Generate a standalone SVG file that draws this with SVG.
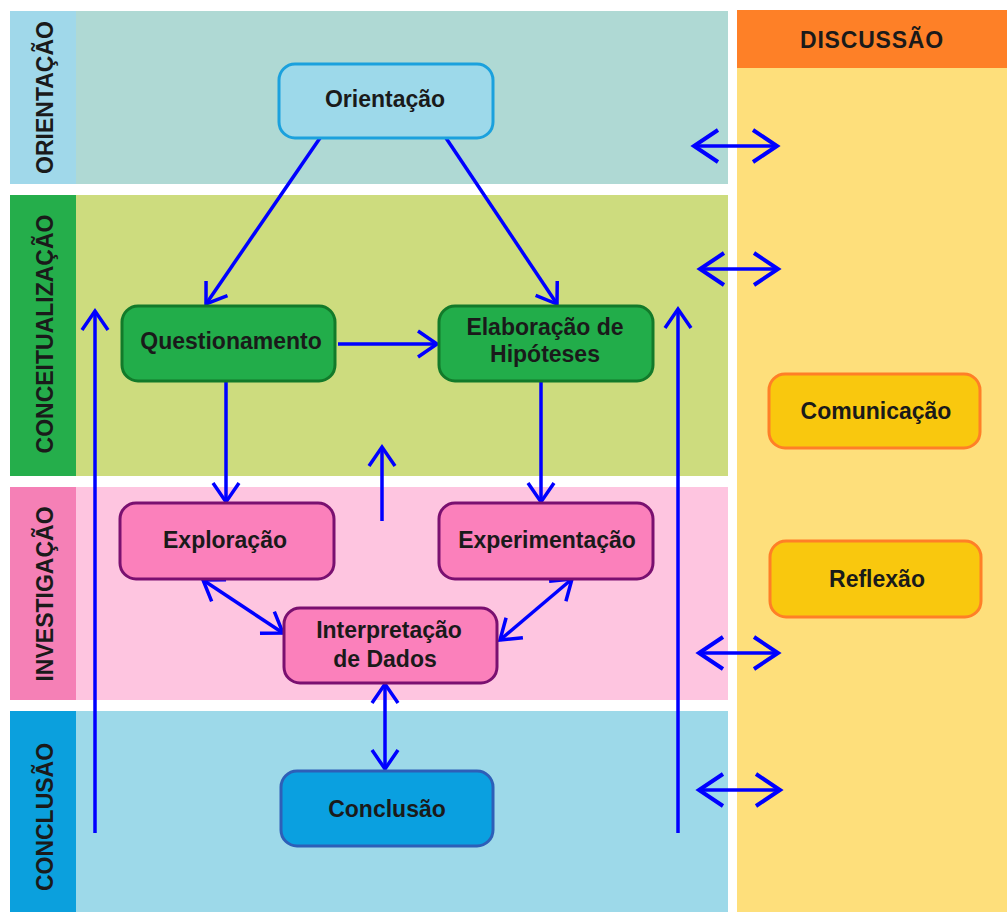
<svg xmlns="http://www.w3.org/2000/svg" width="1007" height="912" viewBox="0 0 1007 912">
<defs>
<style>
.lbl{font-family:"Liberation Sans",Arial,sans-serif;font-weight:bold;font-size:23px;fill:#1a1a1a;text-anchor:middle}
.nt{font-family:"Liberation Sans",Arial,sans-serif;font-weight:bold;font-size:23px;fill:#1a1a1a;text-anchor:middle}
.c{stroke:#0000ff;stroke-width:3.5;fill:none}
</style>
<marker id="ah" markerUnits="userSpaceOnUse" viewBox="-30 -20 40 40" refX="0" refY="0" markerWidth="40" markerHeight="40" orient="auto-start-reverse" overflow="visible">
<path d="M-19,-13 L0,0 L-19,13" fill="none" stroke="#0000ff" stroke-width="3.5"/>
</marker>
<marker id="ahb" markerUnits="userSpaceOnUse" viewBox="-30 -20 40 40" refX="0" refY="0" markerWidth="40" markerHeight="40" orient="auto-start-reverse" overflow="visible">
<path d="M-24,-16 L0,0 L-24,16" fill="none" stroke="#0000ff" stroke-width="4"/>
</marker>
</defs>
<rect width="1007" height="912" fill="#ffffff"/>
<g id="bands">
<rect x="10" y="11" width="718" height="173" fill="#afd9d4"/>
<rect x="10" y="11" width="66" height="173" fill="#a0d8ea"/>
<rect x="10" y="195" width="718" height="281" fill="#cddc7e"/>
<rect x="10" y="195" width="66" height="281" fill="#25ae4b"/>
<rect x="10" y="487" width="718" height="213" fill="#fec5e0"/>
<rect x="10" y="487" width="66" height="213" fill="#f580b6"/>
<rect x="10" y="711" width="718" height="201" fill="#9dd9e9"/>
<rect x="10" y="711" width="66" height="201" fill="#0ba0dd"/>
<rect x="737" y="10" width="270" height="902" fill="#fedf7b"/>
<rect x="737" y="10" width="270" height="58" fill="#fe8027"/>
<text class="lbl" transform="translate(53,97.5) rotate(-90)">ORIENTAÇÃO</text>
<text class="lbl" transform="translate(53,334) rotate(-90)">CONCEITUALIZAÇÃO</text>
<text class="lbl" transform="translate(53,594) rotate(-90)">INVESTIGAÇÃO</text>
<text class="lbl" transform="translate(53,817) rotate(-90)">CONCLUSÃO</text>
<text class="lbl" x="872" y="48" font-size="22" letter-spacing="0.8">DISCUSSÃO</text>
</g>
<g id="connectors">
<line class="c" x1="320" y1="138" x2="206" y2="304" marker-end="url(#ah)"/>
<line class="c" x1="446" y1="138" x2="557" y2="304" marker-end="url(#ah)"/>
<line class="c" x1="338" y1="344" x2="437" y2="344" marker-end="url(#ah)"/>
<line class="c" x1="226" y1="381" x2="226" y2="502" marker-end="url(#ah)"/>
<line class="c" x1="541" y1="381" x2="541" y2="502" marker-end="url(#ah)"/>
<line class="c" x1="382" y1="521" x2="382" y2="447" marker-end="url(#ah)"/>
<line class="c" x1="95" y1="833" x2="95" y2="311" marker-end="url(#ah)"/>
<line class="c" x1="678" y1="833" x2="678" y2="309" marker-end="url(#ah)"/>
<line class="c" x1="203" y1="580" x2="283" y2="633" marker-start="url(#ah)" marker-end="url(#ah)"/>
<line class="c" x1="572" y1="579" x2="500" y2="640" marker-start="url(#ah)" marker-end="url(#ah)"/>
<line class="c" x1="385" y1="684" x2="385" y2="769" marker-start="url(#ah)" marker-end="url(#ah)"/>
<line class="c" x1="694" y1="146" x2="777" y2="146" marker-start="url(#ahb)" marker-end="url(#ahb)"/>
<line class="c" x1="700" y1="269" x2="778" y2="269" marker-start="url(#ahb)" marker-end="url(#ahb)"/>
<line class="c" x1="699" y1="653" x2="778" y2="653" marker-start="url(#ahb)" marker-end="url(#ahb)"/>
<line class="c" x1="699" y1="790" x2="780" y2="790" marker-start="url(#ahb)" marker-end="url(#ahb)"/>
</g>
<g id="orientacao">
<rect x="279" y="64" width="214" height="74" rx="16" fill="#9dd9ea" stroke="#1ba1dd" stroke-width="3"/>
<text class="nt" x="385" y="107">Orientação</text>
</g>
<g id="questionamento">
<rect x="122" y="306" width="213" height="75" rx="16" fill="#22ad4a" stroke="#127a2a" stroke-width="3"/>
<text class="nt" x="231" y="349">Questionamento</text>
</g>
<g id="elaboracao">
<rect x="439" y="306" width="214" height="75" rx="16" fill="#22ad4a" stroke="#127a2a" stroke-width="3"/>
<text class="nt" x="545" y="335">Elaboração de</text>
<text class="nt" x="545" y="362">Hipóteses</text>
</g>
<g id="exploracao">
<rect x="120" y="503" width="214" height="76" rx="16" fill="#fb80bb" stroke="#7a1070" stroke-width="3"/>
<text class="nt" x="225" y="548">Exploração</text>
</g>
<g id="experimentacao">
<rect x="439" y="503" width="214" height="76" rx="16" fill="#fb80bb" stroke="#7a1070" stroke-width="3"/>
<text class="nt" x="547" y="548">Experimentação</text>
</g>
<g id="interpretacao">
<rect x="284" y="608" width="213" height="75" rx="16" fill="#fb80bb" stroke="#7a1070" stroke-width="3"/>
<text class="nt" x="389" y="638">Interpretação</text>
<text class="nt" x="385" y="667">de Dados</text>
</g>
<g id="conclusao">
<rect x="281" y="771" width="212" height="75" rx="16" fill="#0aa0e0" stroke="#2d5fb8" stroke-width="3"/>
<text class="nt" x="387" y="817">Conclusão</text>
</g>
<g id="comunicacao">
<rect x="769" y="374" width="211" height="74" rx="16" fill="#f9c80e" stroke="#ff7f27" stroke-width="3"/>
<text class="nt" x="876" y="419">Comunicação</text>
</g>
<g id="reflexao">
<rect x="770" y="541" width="211" height="76" rx="16" fill="#f9c80e" stroke="#ff7f27" stroke-width="3"/>
<text class="nt" x="877" y="587">Reflexão</text>
</g>
</svg>
